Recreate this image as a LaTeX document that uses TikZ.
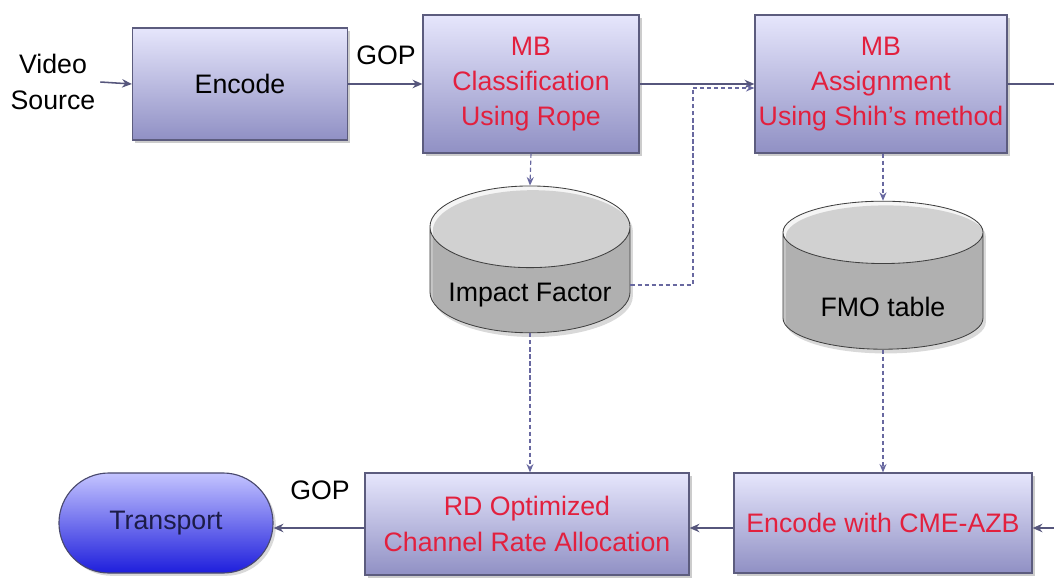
\documentclass[tikz,border=0pt]{standalone}
\usepackage{fontspec}
\setmainfont{Liberation Sans}
\usetikzlibrary{shapes.geometric,shadows,arrows.meta}

\definecolor{hoptren}{HTML}{E6E6FC}
\definecolor{hopgiua}{HTML}{BEBEEE}
\definecolor{hopduoi}{HTML}{9090C4}
\definecolor{vienhop}{HTML}{5C5C7E}
\definecolor{chudo}{HTML}{E2203E}
\definecolor{muiten}{HTML}{56567C}
\definecolor{netdutc}{HTML}{6868A0}
\definecolor{xanhtren}{HTML}{C4C4FF}
\definecolor{xanhduoi}{HTML}{1E1EDC}
\definecolor{chuxanh}{HTML}{1C1C48}

\begin{document}
\begin{tikzpicture}[x=0.025cm,y=-0.025cm,
        font=\fontsize{19}{25}\selectfont,
        khoi/.style={rectangle, draw=vienhop, line width=0.8pt,
            top color=hoptren, middle color=hopgiua, bottom color=hopduoi,
            align=center, text=chudo, inner sep=0pt,
            drop shadow={opacity=0.4, shadow xshift=2pt, shadow yshift=-2pt}},
        csdl/.style={cylinder, shape border rotate=90, aspect=0.5,
            draw=black!75, line width=0.6pt, cylinder uses custom fill,
            cylinder body fill=gray!45, cylinder end fill=gray!8,
            minimum width=5cm, minimum height=3.65cm, inner sep=0pt,
            drop shadow={opacity=0.3, shadow xshift=2pt, shadow yshift=-3pt}},
        luong/.style={draw=muiten, line width=1.1pt, -{Stealth[length=7pt,width=6pt]}},
        dut/.style={draw=netdutc, line width=0.8pt, dash pattern=on 3pt off 2pt},
        dutten/.style={dut, -{Stealth[length=6pt,width=5pt]}}]
    \useasboundingbox (0,0) rectangle (1054,579);

    % Hàng trên: mã hóa và phân loại MB
    \node[align=center] (nguon) at (53,82) {Video\\Source};
    \node[khoi, text=black, minimum width=5.375cm, minimum height=2.8cm] (mahoa) at (240,84) {Encode};
    \node[khoi, minimum width=5.4cm, minimum height=3.45cm] (phanloai) at (531,84)
        {MB\\Classification\\Using Rope};
    \node[khoi, minimum width=6.3cm, minimum height=3.45cm] (gan) at (881,84)
        {MB\\Assignment\\Using Shih's method};
    \node (gop1) at (386,55) {GOP};

    \draw[luong] (nguon.east) -- (mahoa.west);
    \draw[luong] (mahoa.east) -- (phanloai.west);
    \draw[luong] (phanloai.east) -- (gan.west);
    \coordinate (rathe) at (1054,84);
    \draw[draw=muiten, line width=1.1pt] (gan.east) -- (rathe);

    % Hai bảng dữ liệu, chữ đặt thấp hơn tâm trụ
    \node[csdl] (anhhuong) at (530,280) {\phantom{Impact Factor}};
    \node (anhhuongchu) at (530,295) {Impact Factor};
    \node[csdl, minimum height=3.7cm] (fmo) at (883,291) {\phantom{FMO table}};
    \node (fmochu) at (883,307) {FMO table};

    \draw[dutten] (phanloai.south) -- (anhhuong.90);
    \draw[dutten] (gan.south -| fmo.90) -- (fmo.90);
    \coordinate (re) at (693,88);
    \draw[dut] (anhhuong.0) ++(0,5) -| (re);
    \draw[dutten] (re) -- (re -| gan.west);

    % Hàng dưới: mã hóa lại, phân phối tốc độ, truyền
    \node[khoi, minimum width=8.1cm, minimum height=2.55cm] (rd) at (527,524)
        {RD Optimized\\Channel Rate Allocation};
    \node[khoi, minimum width=7.45cm, minimum height=2.5cm] (cme) at (883,523)
        {Encode with CME-AZB};
    \node[rectangle, rounded corners=1.25cm, minimum width=5.35cm, minimum height=2.5cm,
        draw=chuxanh!80, line width=0.8pt, top color=xanhtren, bottom color=xanhduoi,
        text=chuxanh, drop shadow={opacity=0.3, shadow xshift=2pt, shadow yshift=-2pt}]
        (truyen) at (166,523) {Transport};
    \node (gop2) at (320,490) {GOP};

    \draw[dutten] (anhhuong.270) -- (anhhuong.270 |- rd.north);
    \draw[dutten] (fmo.270) -- (fmo.270 |- cme.north);
    \coordinate (vao) at (1054,528);
    \draw[luong] (vao) -- (vao -| cme.east);
    \draw[luong] (cme.west |- 0,528) -- (rd.east |- 0,528);
    \draw[luong] (rd.west |- 0,528) -- (truyen.east |- 0,528);
\end{tikzpicture}
\end{document}
